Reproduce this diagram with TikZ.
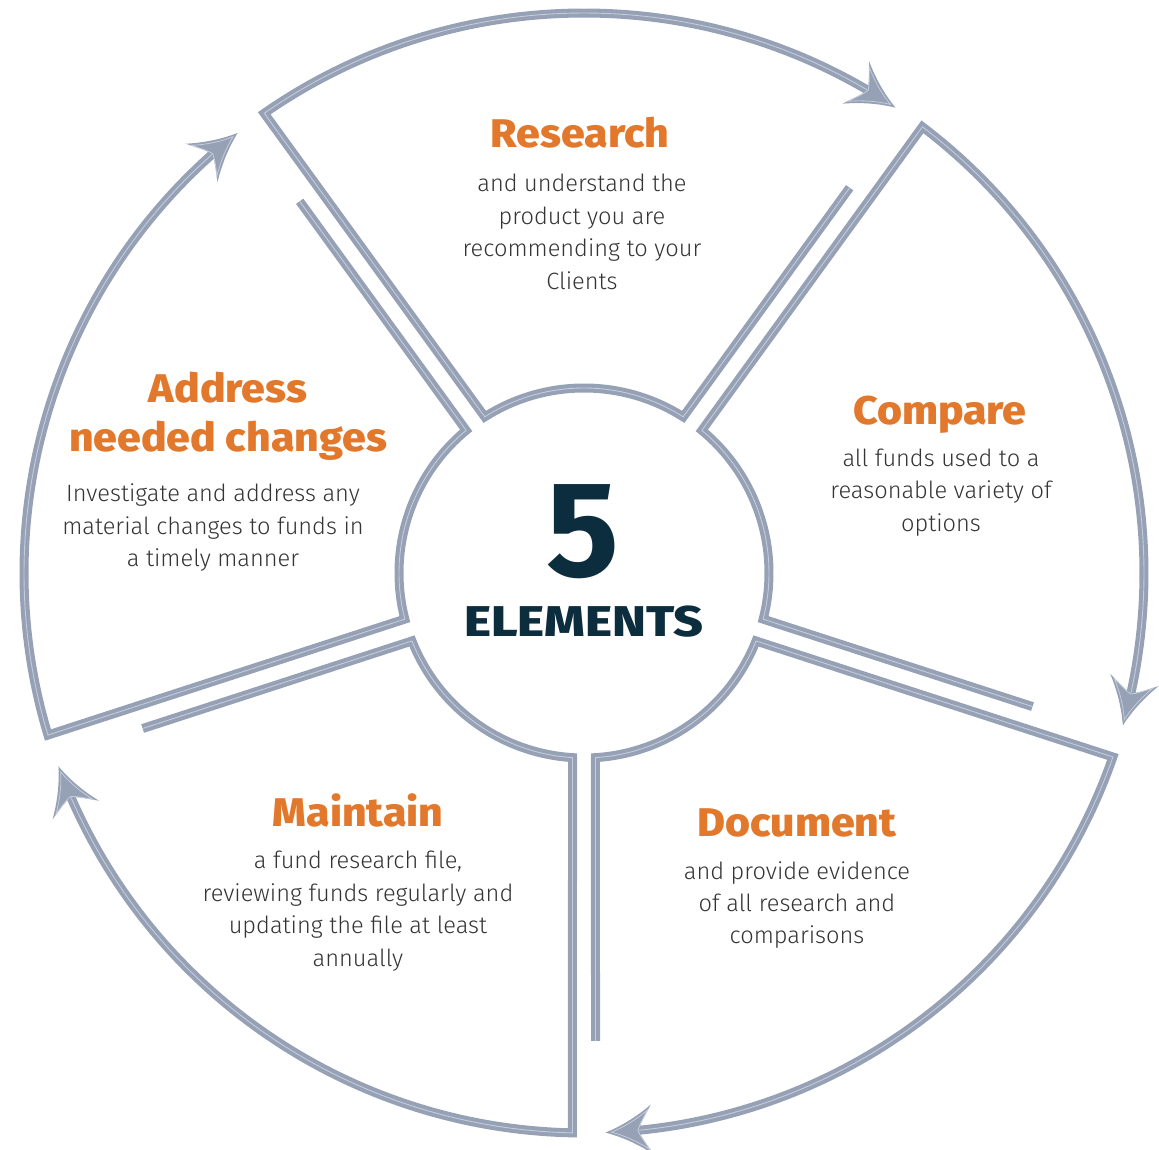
\documentclass[tikz,border=0pt]{standalone}
\usepackage{fontspec}
\setmainfont{Fira Sans}
\newfontfamily\bodyfont{Fira Sans Light}
\newfontfamily\headfont{Fira Sans ExtraBold}[FakeStretch=1.07]
\newfontfamily\widefont{Fira Sans ExtraBold}[FakeStretch=1.2]
\usetikzlibrary{calc}

\definecolor{ringgray}{RGB}{150,161,182}
\definecolor{ringlight}{RGB}{196,204,218}
\definecolor{headorange}{RGB}{226,120,43}
\definecolor{centernavy}{RGB}{12,45,61}
\definecolor{bodygray}{RGB}{52,52,52}

\tikzset{
  ring/.style={draw=ringgray, line width=9, line join=miter},
  ringcore/.style={draw=ringlight, line width=0.9, line join=miter},
  head/.style={font=\headfont\fontsize{40}{48}\selectfont, text=headorange, inner sep=0, anchor=base},
  body/.style={font=\bodyfont\fontsize{23.6}{32.5}\selectfont, text=bodygray, inner sep=0, anchor=base},
  bighead/.style={font=\bfseries\fontsize{136}{140}\selectfont, text=centernavy, inner sep=0, anchor=base},
  subhead/.style={font=\widefont\fontsize{43}{48}\selectfont, text=centernavy, inner sep=0, anchor=base},
  arrowhead/.pic={
    \fill[ringgray] (0,0) .. controls (-15,5) and (-31,13) .. (-47,25)
      .. controls (-40,14) and (-35,6) .. (-33,0)
      .. controls (-35,-6) and (-40,-14) .. (-47,-25)
      .. controls (-31,-13) and (-15,-5) .. (0,0) -- cycle;
    \draw[ringlight, line width=0.8, shift={(-30,0)}, scale=0.8, shift={(30,0)}]
      (0,0) .. controls (-15,5) and (-31,13) .. (-47,25)
      .. controls (-40,14) and (-35,6) .. (-33,0)
      .. controls (-35,-6) and (-40,-14) .. (-47,-25)
      .. controls (-31,-13) and (-15,-5) .. (0,0) -- cycle;
  }
}

\begin{document}
\begin{tikzpicture}[x=1pt, y=1pt]
  \useasboundingbox (-584,-577) rectangle (575,573);

  % five ring segments: free spoke end, inner arc, outer spoke, outer arc with arrow
  \foreach \ts [count=\k] in {126,54,-18,-90,198} {
    \pgfmathsetmacro\te{\ts-72}
    \pgfmathsetmacro\fa{\te+1.41}
    \pgfmathsetmacro\ia{\te+3.56}
    \pgfmathsetmacro\ib{\ts-3.56}
    \pgfmathsetmacro\oa{\ts-1.18}
    \pgfmathsetmacro\ob{\te+5.2}
    \pgfmathsetmacro\tipa{\te+2.2}
    \pgfmathsetmacro\rot{\te+2.2-90+1.5}
    \coordinate (free\k) at (\fa:468);
    \coordinate (in\k) at (\ia:185);
    \coordinate (out\k) at (\oa:560);
    \coordinate (tip\k) at (\tipa:560);
    \foreach \sty in {ring,ringcore}
      \draw[\sty] (free\k) -- (in\k)
        arc[start angle=\ia, end angle=\ib, radius=185] -- (out\k)
        arc[start angle=\oa, end angle=\ob, radius=560];
    \pic[rotate=\rot] at (tip\k) {arrowhead};
  }

  \begin{scope}[shift={(-584,573)}, yscale=-1]
    % centre
    \node[bighead] (five) at (583,576.5) {5};
    \node[subhead] (elements) at (584,636.5) {ELEMENTS};

    % Research
    \node[head] (researchT) at (580,148) {Research};
    \node[body] (research1) at (582,192) {and understand the};
    \node[body] (research2) at (582,224.5) {product you are};
    \node[body] (research3) at (582,257) {recommending to your};
    \node[body] (research4) at (582,289.5) {Clients};

    % Compare
    \node[head] (compareT) at (940,425) {Compare};
    \node[body] (compare1) at (941,466.5) {all funds used to a};
    \node[body] (compare2) at (941,499) {reasonable variety of};
    \node[body] (compare3) at (941,531.5) {options};

    % Document
    \node[head] (documentT) at (797,836.5) {Document};
    \node[body] (document1) at (797,879.5) {and provide evidence};
    \node[body] (document2) at (797,911.5) {of all research and};
    \node[body] (document3) at (797,943.5) {comparisons};

    % Maintain
    \node[head] (maintainT) at (358,826.5) {Maintain};
    \node[body] (maintain1) at (358,868.5) {a fund research file,};
    \node[body] (maintain2) at (358,901) {reviewing funds regularly and};
    \node[body] (maintain3) at (358,933.5) {updating the file at least};
    \node[body] (maintain4) at (358,966) {annually};

    % Address
    \node[head] (addressT1) at (228,403) {Address};
    \node[head] (addressT2) at (228,451.5) {needed changes};
    \node[body] (address1) at (213,502) {Investigate and address any};
    \node[body] (address2) at (213,534.5) {material changes to funds in};
    \node[body] (address3) at (213,567) {a timely manner};
  \end{scope}
\end{tikzpicture}
\end{document}
